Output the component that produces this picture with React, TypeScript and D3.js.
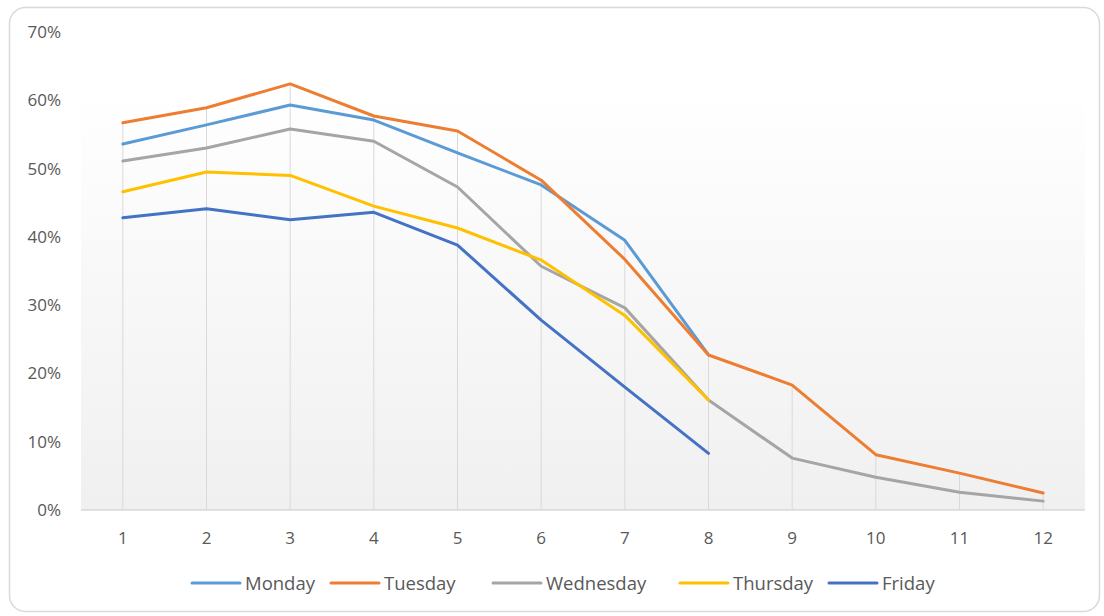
import React, { useEffect, useRef } from 'react';
import * as d3 from 'd3';

const categories = ['1', '2', '3', '4', '5', '6', '7', '8', '9', '10', '11', '12'];
const yTicks = [0, 0.1, 0.2, 0.3, 0.4, 0.5, 0.6, 0.7];

const monday = [0.536, 0.564, 0.593, 0.571, 0.523, 0.476, 0.395, 0.227];
const tuesday = [0.567, 0.589, 0.624, 0.577, 0.555, 0.483, 0.367, 0.227, 0.183, 0.081, 0.054, 0.025];
const wednesday = [0.511, 0.530, 0.558, 0.540, 0.473, 0.357, 0.296, 0.161, 0.076, 0.048, 0.026, 0.013];
const thursday = [0.466, 0.495, 0.490, 0.445, 0.413, 0.366, 0.285, 0.161];
const friday = [0.428, 0.441, 0.425, 0.436, 0.388, 0.278, 0.180, 0.083];

const seriesNames = ['Monday', 'Tuesday', 'Wednesday', 'Thursday', 'Friday'];
const seriesValues = [monday, tuesday, wednesday, thursday, friday];
const seriesColors = ['#5B9BD5', '#ED7D31', '#A5A5A5', '#FFC000', '#4472C4'];

const W = 1104;
const H = 616;
const FONT = '"Open Sans", "Noto Sans", sans-serif';

export default function App() {
  const svgRef = useRef<SVGSVGElement>(null);

  useEffect(() => {
    const svg = d3.select(svgRef.current);
    svg.selectAll('*').remove();

    // marco exterior
    svg.append('rect')
      .attr('x', 9.5).attr('y', 7.5)
      .attr('width', 1090).attr('height', 604)
      .attr('rx', 16)
      .attr('fill', '#ffffff')
      .attr('stroke', '#d9d9d9')
      .attr('stroke-width', 1.5);

    const left = 81, right = 1085, top = 32, bottom = 510;

    const x = d3.scaleBand().domain(categories).range([left, right]);
    const cx = (i: number) => (x(categories[i]) as number) + x.bandwidth() / 2;
    const y = d3.scaleLinear().domain([0, 0.7]).range([bottom, top]);

    // fondo degradado
    const defs = svg.append('defs');
    const grad = defs.append('linearGradient')
      .attr('id', 'plotGrad').attr('x1', 0).attr('y1', 0).attr('x2', 0).attr('y2', 1);
    grad.append('stop').attr('offset', '0%').attr('stop-color', '#ffffff');
    grad.append('stop').attr('offset', '100%').attr('stop-color', '#f0f0f0');

    svg.append('rect')
      .attr('x', left).attr('y', 87)
      .attr('width', right - left).attr('height', bottom - 87)
      .attr('fill', 'url(#plotGrad)');

    // líneas verticales (drop lines)
    categories.forEach((_, i) => {
      const vals = seriesValues.map(s => s[i]).filter(v => v !== undefined);
      if (!vals.length) return;
      svg.append('line')
        .attr('x1', cx(i)).attr('x2', cx(i))
        .attr('y1', y(d3.max(vals) as number)).attr('y2', bottom)
        .attr('stroke', '#d9d9d9')
        .attr('stroke-width', 1);
    });

    // eje x
    svg.append('line')
      .attr('x1', left).attr('x2', right)
      .attr('y1', bottom).attr('y2', bottom)
      .attr('stroke', '#d9d9d9')
      .attr('stroke-width', 1.5);

    svg.append('g').selectAll('text')
      .data(categories)
      .enter()
      .append('text')
      .attr('x', (_, i) => cx(i))
      .attr('y', 544)
      .attr('text-anchor', 'middle')
      .attr('font-family', FONT)
      .attr('font-size', 17)
      .attr('fill', '#595959')
      .text(d => d);

    // eje y
    svg.append('g').selectAll('text')
      .data(yTicks)
      .enter()
      .append('text')
      .attr('x', 61)
      .attr('y', d => y(d) + 6)
      .attr('text-anchor', 'end')
      .attr('font-family', FONT)
      .attr('font-size', 17)
      .attr('fill', '#595959')
      .text(d => `${Math.round(d * 100)}%`);

    const line = d3.line<number>()
      .x((_, i) => cx(i))
      .y(d => y(d));

    seriesValues.forEach((vals, k) => {
      svg.append('path')
        .datum(vals)
        .attr('fill', 'none')
        .attr('stroke', seriesColors[k])
        .attr('stroke-width', 3)
        .attr('stroke-linejoin', 'round')
        .attr('stroke-linecap', 'round')
        .attr('d', line);
    });

    // leyenda
    const legendX = [192, 331, 493, 680, 829];
    const legend = svg.append('g');
    seriesNames.forEach((name, k) => {
      legend.append('line')
        .attr('x1', legendX[k]).attr('x2', legendX[k] + 48)
        .attr('y1', 583).attr('y2', 583)
        .attr('stroke', seriesColors[k])
        .attr('stroke-width', 3)
        .attr('stroke-linecap', 'round');
      legend.append('text')
        .attr('x', legendX[k] + 53)
        .attr('y', 590)
        .attr('font-family', FONT)
        .attr('font-size', 18.5)
        .attr('fill', '#595959')
        .text(name);
    });
  }, []);

  return (
    <div style={{ position: 'absolute', left: 0, top: 0, width: W, height: H }}>
      <svg ref={svgRef} width={W} height={H} />
    </div>
  );
}
